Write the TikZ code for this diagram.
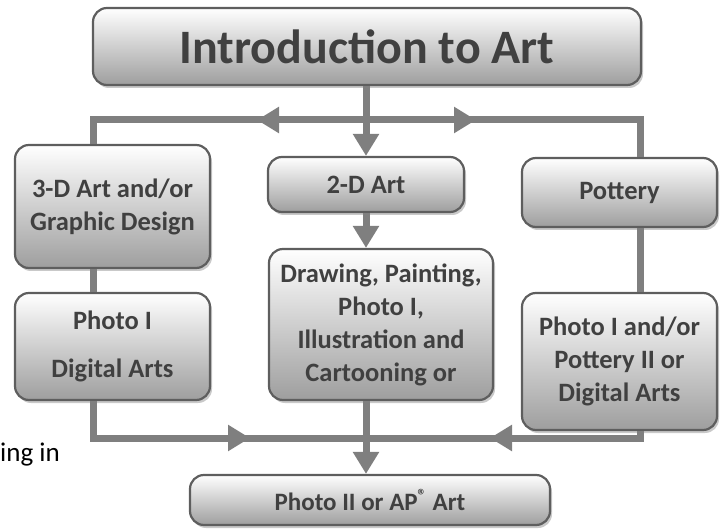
\documentclass[tikz,border=0pt]{standalone}
\usepackage{fontspec}
\setmainfont{Carlito}
\usepackage{tikz}
\usetikzlibrary{arrows.meta, shadows, positioning}

\definecolor{boxline}{HTML}{5E5E5E}
\definecolor{boxtext}{HTML}{404040}
\definecolor{connline}{HTML}{7F7F7F}

\begin{document}
\begin{tikzpicture}[x=1pt, y=-1pt,
    artbox/.style={draw=boxline, line width=2.2pt, rounded corners=14pt,
        top color=white, bottom color=black!38, inner sep=0pt,
        align=center, text=boxtext, font=\bfseries\fontsize{26.5}{33}\selectfont,
        drop shadow={shadow xshift=2pt, shadow yshift=-3pt, fill=black!30, opacity=.7}},
    conn/.style={draw=connline, line width=7pt, line join=miter},
    tip/.style={-{Triangle[length=22pt, width=25pt]}}]
    \useasboundingbox (0,0) rectangle (723,529);

    % Boxes
    \node[artbox, minimum width=548pt, minimum height=77pt,
        font=\bfseries\fontsize{48}{50}\selectfont] (intro) at (367,46.5) {Introduction to Art};
    \node[artbox, minimum width=195pt, minimum height=123pt] (threeD) at (112.5,206.5)
        {3-D Art and/or\\Graphic Design};
    \node[artbox, minimum width=196pt, minimum height=55pt] (twoD) at (366,184.5) {2-D Art};
    \node[artbox, minimum width=195pt, minimum height=69pt] (pottery) at (619.5,192.5) {Pottery};
    \node[artbox, minimum width=195pt, minimum height=107pt] (photoA) at (112.5,346.5)
        {Photo I\\[15pt]Digital Arts};
    \node[artbox, minimum width=224pt, minimum height=151pt] (drawing) at (381,324.5)
        {Drawing, Painting,\\Photo I,\\Illustration and\\Cartooning or};
    \node[artbox, minimum width=195pt, minimum height=137pt] (photoB) at (619.5,361.5)
        {Photo I and/or\\Pottery II or\\Digital Arts};
    \node[artbox, minimum width=360pt, minimum height=50pt,
        font=\bfseries\fontsize{25}{28}\selectfont] (final) at (370,500)
        {Photo II or AP\textsuperscript{®} Art};
    \node[anchor=east, inner sep=0pt, font=\fontsize{27}{30}\selectfont] (note) at (60,455) {ing in};

    % Top bar
    \coordinate (tl) at (93,120);
    \coordinate (tr) at (640,120);
    \coordinate (tm) at (366,120);
    \coordinate (ta) at (257,120);
    \coordinate (tb) at (476,120);
    \draw[conn] (tl |- threeD.north) -- (tl) -- (tr) -- (tr |- pottery.north);
    \draw[conn, tip] (tm) -- (ta);
    \draw[conn, tip] (tm) -- (tb);
    \draw[conn, tip] (twoD.north |- intro.south) -- (twoD.north);
    \draw[conn, tip] (twoD.south) -- (twoD.south |- drawing.north);

    % Side links
    \draw[conn] (tl |- threeD.south) -- (tl |- photoA.north);
    \draw[conn] (tr |- pottery.south) -- (tr |- photoB.north);

    % Bottom bar
    \coordinate (bl) at (93,438);
    \coordinate (br) at (640,438);
    \coordinate (ba) at (250,438);
    \coordinate (bb) at (490,438);
    \draw[conn] (bl |- photoA.south) -- (bl) -- (br) -- (br |- photoB.south);
    \draw[conn, tip] (bl) -- (ba);
    \draw[conn, tip] (br) -- (bb);
    \draw[conn, tip] (twoD.south |- drawing.south) -- (twoD.south |- final.north);
\end{tikzpicture}
\end{document}
